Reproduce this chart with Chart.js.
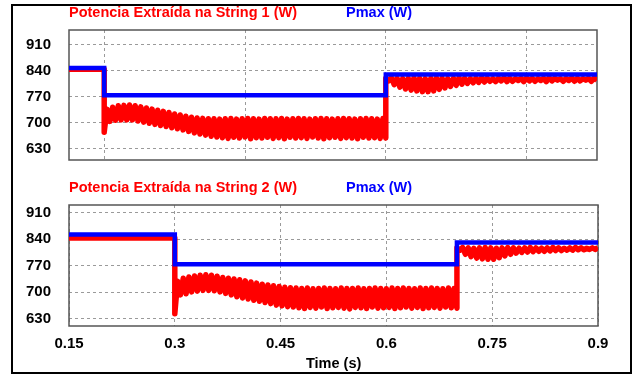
<!DOCTYPE html>
<html><head><meta charset="utf-8">
<script src="https://cdn.jsdelivr.net/npm/chart.js@4.4.1/dist/chart.umd.min.js"></script>
<style>
html,body{margin:0;padding:0;background:#fff;}
body{width:639px;height:377px;position:relative;overflow:hidden;font-family:'Liberation Sans',Arial,sans-serif;}
.box{position:absolute;left:11px;top:4px;width:617px;height:366px;border:2px solid #000;}
canvas{position:absolute;left:0;}
.lbl{position:absolute;font-weight:bold;font-size:14.5px;line-height:14.5px;white-space:nowrap;}
</style></head><body>
<div class="box"></div>
<canvas id="c1" width="639" height="187" style="top:0px"></canvas>
<canvas id="c2" width="639" height="207" style="top:170px"></canvas>
<div class="lbl" id="l1a" style="left:69px;top:5px;color:#ff0000"></div>
<div class="lbl" id="l1b" style="left:346px;top:5px;color:#0000ff"></div>
<div class="lbl" id="l2a" style="left:69px;top:180px;color:#ff0000"></div>
<div class="lbl" id="l2b" style="left:346px;top:180px;color:#0000ff"></div>
<div class="lbl" id="xt" style="left:306px;top:356px;color:#000"></div>
<script>
// ---- labels ----
const seriesNames1 = ['Potencia Extraída na String 1 (W)', 'Pmax (W)'];
const seriesNames2 = ['Potencia Extraída na String 2 (W)', 'Pmax (W)'];
const xTitle = 'Time (s)';

// ---- ticks ----
const yTicks = [630, 700, 770, 840, 910];
const xTicksTop = [0.2, 0.4, 0.6, 0.8];
const xTicksBottom = [0.15, 0.3, 0.45, 0.6, 0.75, 0.9];
const xTickLabels = ['0.15', '0.3', '0.45', '0.6', '0.75', '0.9'];

// ---- data (time in s, power in W) ----
const rippleStep = 0.004; // half-period of the switching ripple

// String 1
const pmax1 = [[0.15, 848], [0.2, 848], [0.2, 774], [0.6, 774], [0.6, 830], [0.9, 830]];
const s1Flat = [[0.15, 844], [0.2, 844]];
const s1A = [ // starts at 0.2 s (trough, peak, ...)
  675,737, 704,742, 707,746, 708,747, 708,748, 708,746, 705,743, 702,740, 699,737, 696,734,
  693,731, 690,728, 687,724, 684,721, 681,718, 677,715, 673,713, 670,712, 667,711, 664,711,
  662,710, 660,711, 658,712, 661,710, 659,711, 662,712, 657,711, 660,710, 659,712, 661,711,
  658,711, 660,712, 657,710, 661,711, 659,712, 660,711, 658,710, 662,711, 659,712, 657,711,
  660,710, 661,711, 658,712, 660,711, 659,710, 657,711, 661,712, 659,711, 660,710, 658,712,
  659
];
const s1B = [ // starts at 0.6 s (peak, trough, ...)
  820,813, 821,803, 820,796, 819,791, 820,788, 821,786, 820,784, 819,784, 820,786, 821,790,
  820,794, 819,798, 820,801, 821,804, 820,806, 819,808, 820,809, 821,810, 820,812, 819,811,
  820,813, 821,811, 820,812, 819,814, 820,811, 821,813, 820,812, 819,814, 820,811, 821,813,
  820,815, 819,812, 820,814, 821,812, 820,813, 819,815, 820,812, 821,814
];

// String 2
const pmax2 = [[0.15, 852], [0.3, 852], [0.3, 774], [0.7, 774], [0.7, 831], [0.9, 831]];
const s2Flat = [[0.15, 843], [0.3, 843]];
const s2A = [ // starts at 0.3 s (trough, peak, ...)
  643,729, 693,737, 696,740, 701,743, 703,745, 705,746, 705,745, 704,742, 701,739, 697,737,
  693,735, 688,733, 685,730, 682,727, 679,724, 676,721, 673,719, 670,717, 666,715, 664,713,
  662,712, 661,711, 659,710, 657,711, 660,709, 658,710, 661,711, 657,710, 659,709, 660,711,
  658,710, 656,710, 660,711, 659,709, 657,710, 661,711, 658,710, 659,709, 660,711, 657,710,
  659,711, 661,710, 658,709, 660,711, 657,710, 659,711, 660,710, 658,709, 661,711, 659,710,
  658
];
const s2B = [ // starts at 0.7 s (peak, trough, ...)
  817,811, 818,800, 817,794, 816,790, 817,788, 818,787, 817,787, 816,791, 817,796, 818,800,
  817,803, 816,805, 817,806, 818,807, 817,808, 816,808, 817,809, 818,810, 817,810, 816,811,
  817,811, 818,812, 817,812, 816,813, 817,813, 818
];

// ---- build ----
function pts(arr) { return arr.map(p => ({x: p[0], y: p[1]})); }
function ripple(start, vals) { return vals.map((v, i) => ({x: start + i * rippleStep, y: v})); }

const red1 = pts(s1Flat).concat(ripple(0.2, s1A), ripple(0.6, s1B));
const red2 = pts(s2Flat).concat(ripple(0.3, s2A), ripple(0.7, s2B));

document.getElementById('l1a').textContent = seriesNames1[0];
document.getElementById('l1b').textContent = seriesNames1[1];
document.getElementById('l2a').textContent = seriesNames2[0];
document.getElementById('l2b').textContent = seriesNames2[1];
document.getElementById('xt').textContent = xTitle;

const FONT = "'Liberation Sans', Arial, sans-serif";
const framePlugin = {
  id: 'frame',
  beforeDatasetsDraw(chart) {
    const {ctx, chartArea: a} = chart;
    ctx.save();
    ctx.strokeStyle = '#555';
    ctx.lineWidth = 1.5;
    ctx.strokeRect(a.left, a.top, a.right - a.left, a.bottom - a.top);
    ctx.restore();
  }
};

function makeChart(id, red, blue, cfg) {
  return new Chart(document.getElementById(id), {
    type: 'line',
    data: {
      datasets: [
        {label: 'red', data: red, borderColor: '#ff0000', borderWidth: 5.5, pointRadius: 0,
         borderJoinStyle: 'round', tension: 0, order: 1, fill: false},
        {label: 'blue', data: pts(blue), borderColor: '#0000ff', borderWidth: 4.5, pointRadius: 0,
         borderJoinStyle: 'miter', tension: 0, order: 0, fill: false}
      ]
    },
    options: {
      responsive: false, animation: false, devicePixelRatio: 1,
      layout: {padding: cfg.padding},
      plugins: {legend: {display: false}, tooltip: {enabled: false}},
      scales: {
        x: {
          type: 'linear', min: 0.15, max: 0.9,
          afterBuildTicks(s) { s.ticks = cfg.xTicks.map(v => ({value: v})); },
          afterFit(s) { s.height = cfg.xHeight; },
          grid: {color: '#9a9a9a', lineWidth: 1, drawTicks: false},
          border: {display: false, dash: [3, 3]},
          ticks: {display: cfg.showX, padding: 9, maxRotation: 0, autoSkip: false,
                  color: '#000', font: {family: FONT, size: 15, weight: 'bold'},
                  callback: (v) => { const i = xTicksBottom.indexOf(v); return i >= 0 ? xTickLabels[i] : String(v); }}
        },
        y: {
          min: cfg.ymin, max: cfg.ymax,
          afterBuildTicks(s) { s.ticks = yTicks.map(v => ({value: v})); },
          afterFit(s) { s.width = 69; },
          grid: {color: '#9a9a9a', lineWidth: 1, drawTicks: false},
          border: {display: false, dash: [3, 3]},
          ticks: {padding: 18, color: '#000', font: {family: FONT, size: 15, weight: 'bold'},
                  callback: (v) => String(v)}
        }
      }
    },
    plugins: [framePlugin]
  });
}

makeChart('c1', red1, pmax1, {padding: {top: 30, bottom: 10, left: 0, right: 42}, xTicks: xTicksTop,
  xHeight: 0, showX: false, ymin: 600, ymax: 950});
makeChart('c2', red2, pmax2, {padding: {top: 35, bottom: 11, left: 0, right: 41}, xTicks: xTicksBottom,
  xHeight: 40, showX: true, ymin: 611, ymax: 930});
</script>
</body></html>
